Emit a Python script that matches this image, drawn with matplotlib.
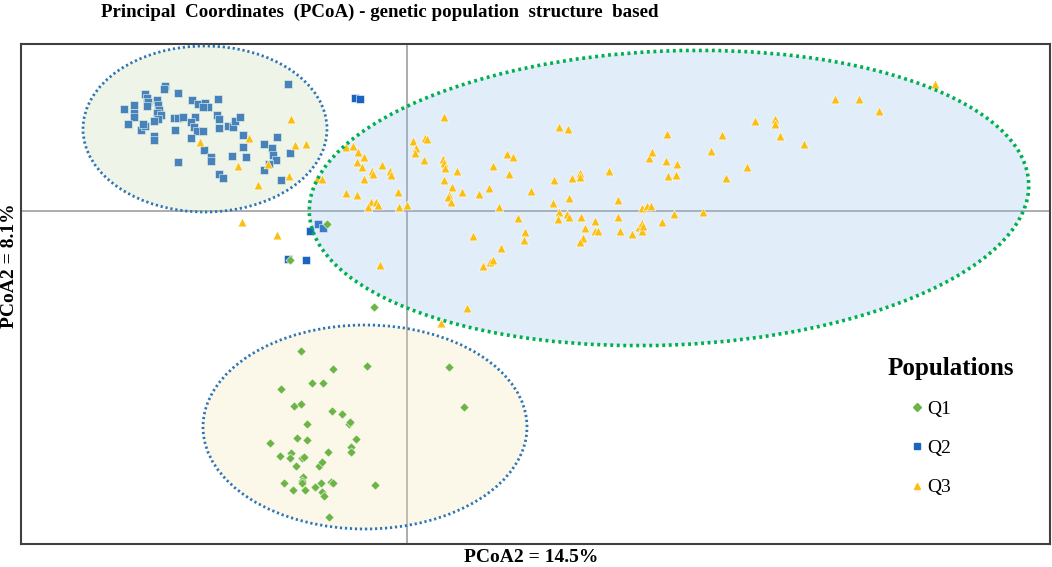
import matplotlib.pyplot as plt
from matplotlib.patches import Ellipse
from matplotlib.lines import Line2D

# PCoA scores (arbitrary units)
q1_x = [-1.06, -0.74, -0.40, 0.42, 0.57, -1.26, -0.95, -0.84, -1.13, -1.06,
        -0.75, -0.65, -0.58, -0.57, -1.00, -1.37, -1.10, -1.00, -0.51, -0.56,
        -0.56, -1.27, -1.16, -1.17, -1.05, -1.03, -0.79, -1.11, -0.88, -0.85,
        -1.04, -1.05, -1.05, -1.23, -1.14, -1.02, -0.92, -0.86, -0.76, -0.74,
        -0.85, -0.83, -0.32, -0.78, -0.80, -1.17, -0.33]
q1_y = [-1.40, -1.58, -1.55, -1.56, -1.96, -1.78, -1.72, -1.72, -1.95, -1.93,
        -2.00, -2.03, -2.13, -2.11, -2.13, -2.32, -2.27, -2.29, -2.28, -2.36,
        -2.41, -2.45, -2.42, -2.47, -2.47, -2.46, -2.41, -2.55, -2.55, -2.51,
        -2.66, -2.70, -2.72, -2.72, -2.79, -2.79, -2.76, -2.72, -2.71, -2.72,
        -2.81, -2.85, -2.74, -3.06, -0.13, -0.49, -0.96]

q2_x = [-1.19, -2.42, -2.43, -2.62, -2.60, -2.59, -2.60, -2.29, -2.50, -2.49,
        -2.48, -2.50, -2.46, -2.49, -2.53, -2.73, -2.73, -2.73, -2.83, -2.79,
        -2.66, -2.62, -2.64, -2.53, -2.53, -2.32, -2.33, -2.29, -2.24, -2.15,
        -2.09, -2.02, -1.99, -2.04, -1.89, -2.12, -2.16, -2.13, -2.10, -2.04,
        -2.16, -2.03, -1.96, -1.96, -2.29, -1.90, -1.88, -1.88, -1.79, -1.74,
        -1.72, -1.67, -1.64, -1.64, -1.61, -1.75, -1.88, -1.84, -1.43, -1.35,
        -1.30, -1.34, -1.31, -1.38, -1.43, -1.17, -1.26,
        -0.52, -0.47, -0.97, -0.89, -0.84, -1.19, -1.01]
q2_y = [1.27, 1.25, 1.22, 1.17, 1.13, 1.09, 1.05, 1.18, 1.11, 1.06,
        1.01, 0.98, 0.96, 0.92, 0.90, 1.06, 0.98, 0.94, 1.02, 0.87,
        0.81, 0.85, 0.87, 0.75, 0.71, 0.81, 0.93, 0.93, 0.94, 1.11,
        1.07, 1.08, 1.04, 1.04, 1.12, 0.94, 0.89, 0.84, 0.80, 0.80,
        0.73, 0.61, 0.54, 0.50, 0.49, 0.96, 0.92, 0.83, 0.85, 0.84,
        0.90, 0.94, 0.76, 0.64, 0.54, 0.55, 0.37, 0.33, 0.67, 0.63,
        0.74, 0.56, 0.51, 0.47, 0.41, 0.58, 0.31,
        1.13, 1.12, -0.20, -0.13, -0.17, -0.48, -0.49]

q3_x = [-1.16, -1.58, -2.07, -1.12, -1.01, -1.69, -1.39, -1.18, -1.49, -0.90,
        -0.85, -0.61, -0.54, -0.61, -0.50, -1.65, -1.30, 0.37, -0.49, -0.43,
        -0.50, -0.45, -0.43, -0.35, -0.34, -0.25, -0.17, -0.16, 0.06, 0.09,
        0.08, 0.18, 0.20, 0.17, 0.36, 0.37, 0.38, 0.37, 0.50, 0.45,
        0.55, 0.42, 0.41, 0.44, -0.36, -0.31, -0.29, -0.39, -0.09, -0.08,
        0.00, 0.72, 0.82, 0.86, 1.00, 1.06, 1.02, 1.24, 0.92, 1.11,
        1.18, 1.17, 0.94, 0.83, 0.86, 0.76, 0.66, -0.27, 0.60, 0.34,
        1.52, 1.61, 1.47, 1.65, 1.73, 1.73, 1.62, 1.46, 1.52, 1.51,
        1.60, 1.62, 1.74, 1.78, 1.76, 1.73, 1.88, 1.88, 1.91, 2.02,
        2.11, 2.11, 2.13, 2.25, 2.35, 2.40, 2.44, 2.32, 2.35, 2.35,
        2.36, 2.55, 2.42, 2.45, 2.59, 2.61, 2.60, 4.28, 4.52, 4.72,
        5.28, 3.48, 3.68, 3.68, 3.73, 3.97, 3.15, 3.04, 2.70, 2.69,
        3.40, 3.19, 2.67, 2.96]
q3_y = [0.92, 0.73, 0.69, 0.66, 0.67, 0.45, 0.47, 0.35, 0.26, 0.32,
        0.32, 0.64, 0.65, 0.18, 0.16, -0.11, -0.24, 0.94, 0.59, 0.54,
        0.49, 0.44, 0.32, 0.40, 0.37, 0.46, 0.40, 0.36, 0.70, 0.63,
        0.58, 0.73, 0.72, 0.51, 0.52, 0.48, 0.43, 0.31, 0.40, 0.24,
        0.19, 0.16, 0.14, 0.09, 0.09, 0.09, 0.06, 0.04, 0.19, 0.04,
        0.06, 0.17, 0.23, 0.45, 0.57, 0.54, 0.37, 0.20, 0.04, -0.07,
        -0.21, -0.29, -0.37, -0.51, -0.49, -0.55, -0.25, -0.54, -0.97, -1.12,
        0.84, 0.82, 0.31, 0.33, 0.38, 0.34, 0.13, 0.08, -0.01, -0.08,
        -0.03, -0.06, -0.06, -0.17, -0.27, -0.31, -0.10, -0.20, -0.20, 0.40,
        0.11, -0.06, -0.20, -0.23, 0.03, 0.05, 0.05, -0.16, -0.12, -0.20,
        -0.15, -0.11, 0.53, 0.59, 0.50, 0.35, 0.77, 1.12, 1.12, 1.00,
        1.27, 0.90, 0.92, 0.87, 0.75, 0.67, 0.76, 0.60, 0.47, 0.36,
        0.44, 0.33, -0.03, -0.01]

# cluster ellipses: centre, width, height, angle
ell_centers = [(-2.02, 0.82), (2.62, 0.13), (-0.42, -2.16)]
ell_widths = [2.44, 7.20, 3.24]
ell_heights = [1.66, 2.94, 2.04]
ell_angles = [0, 2.4, 0]
ell_fill = ['#c1dbad', '#93bfe7', '#f7e7af']
ell_edge = ['#2e75b6', '#00b050', '#2e75b6']

labels = ['Q1', 'Q2', 'Q3']
colors = ['#6cb444', '#1b63c0', '#fbbf14']
markers = ['D', 's', '^']

serif = 'Liberation Serif'

fig = plt.figure(figsize=(10.52, 5.67), dpi=100)
ax = fig.add_axes([21 / 1052, 23 / 567, 1029 / 1052, 500 / 567])

ax.axhline(0, color='#a6a6a6', lw=1.3, zorder=1)
ax.axvline(0, color='#a6a6a6', lw=1.3, zorder=1)

# Q2 sits under the see-through ellipse fill (looks lighter inside it)
ax.scatter(q2_x, q2_y, marker='s', s=34, color=colors[1],
           edgecolors='white', linewidths=0.4, zorder=2)

for i in range(3):
    ax.add_patch(Ellipse(ell_centers[i], ell_widths[i], ell_heights[i],
                         angle=ell_angles[i], facecolor=ell_fill[i],
                         alpha=0.27, edgecolor='none', zorder=3))
    lw = 2.6 if i == 1 else 2.0
    ax.add_patch(Ellipse(ell_centers[i], ell_widths[i], ell_heights[i],
                         angle=ell_angles[i], facecolor='none',
                         edgecolor=ell_edge[i], lw=lw,
                         linestyle=(0, (0.8, 1.0)), zorder=4))

ax.scatter(q1_x, q1_y, marker='D', s=22, color=colors[0],
           edgecolors='white', linewidths=0.4, zorder=3.5)
ax.scatter(q3_x, q3_y, marker='^', s=40, color=colors[2],
           edgecolors='white', linewidths=0.4, zorder=3.5)

ax.set_xlim(-3.86, 6.43)
ax.set_ylim(-3.33, 1.67)
ax.set_xticks([])
ax.set_yticks([])
for sp in ax.spines.values():
    sp.set_color('#404040')
    sp.set_linewidth(1.5)

fig.text(380 / 1052, 1 - 12 / 567,
         'Principal  Coordinates  (PCoA) - genetic population  structure  based',
         ha='center', va='center', fontsize=13.6, fontweight='bold', family=serif)
fig.text(531 / 1052, 1 - 557 / 567, 'PCoA2 = 14.5%', ha='center', va='center',
         fontsize=14, fontweight='bold', family=serif)
fig.text(10 / 1052, 1 - 266 / 567, 'PCoA2 = 8.1%', ha='center', va='center',
         rotation=90, fontsize=14, fontweight='bold', family=serif)

fig.text(951 / 1052, 1 - 368 / 567, 'Populations', ha='center', va='center',
         fontsize=18, fontweight='bold', family=serif)

handles = [Line2D([], [], linestyle='none', marker=markers[i], color=colors[i],
                  markersize=5 if i != 0 else 4) for i in range(3)]
ax.legend(handles, labels, frameon=False, loc='upper left',
          bbox_to_anchor=(909 / 1052, 1 - 400 / 567),
          bbox_transform=fig.transFigure, prop={'family': serif, 'size': 14},
          borderpad=0, borderaxespad=0, labelspacing=1.12,
          handletextpad=0.15, handlelength=0.8)

fig.savefig('out.png', dpi=100)
